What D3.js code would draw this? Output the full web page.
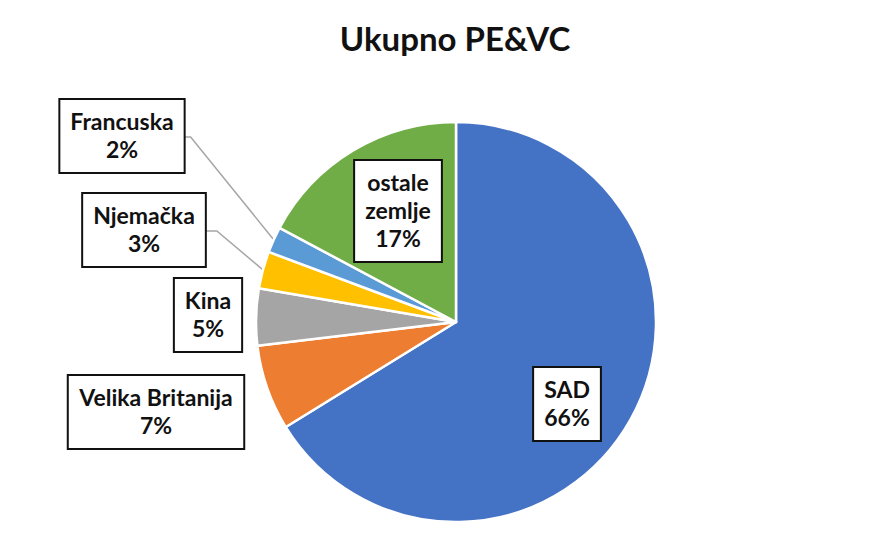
<!DOCTYPE html>
<html>
<head>
<meta charset="utf-8">
<script src="https://cdn.jsdelivr.net/npm/d3@7"></script>
<style>
  body { margin: 0; background: #fff; }
  svg { display: block; }
  text { font-family: Lato, "Noto Sans", sans-serif; font-weight: 700; fill: #111; }
</style>
</head>
<body>
<svg width="890" height="552"></svg>
<script>
// podaci
const categories = ["SAD", "Velika Britanija", "Kina", "Njemačka", "Francuska", "ostale zemlje"];
const values = [66.2, 6.9, 4.6, 3.0, 2.1, 17.2];
const labels = ["66%", "7%", "5%", "3%", "2%", "17%"];
const colors = ["#4472C4", "#ED7D31", "#A5A5A5", "#FFC000", "#5B9BD5", "#70AD47"];

// pomak središta okvira oznake od središta pite
const labelOffset = [[111, 82], [-300, 90], [-248, -7], [-312, -92], [-334, -186], [-58, -111]];
const hasLeader = [false, false, false, true, true, false];

const svg = d3.select("svg");
const cx = 456, cy = 322, r = 200;

svg.append("text")
   .attr("x", 455).attr("y", 51)
   .attr("text-anchor", "middle")
   .style("font-size", "33px")
   .text("Ukupno PE&VC");

const data = categories.map((c, i) => ({name: c, value: values[i], label: labels[i], color: colors[i], i: i}));

const pie = d3.pie().sort(null).value(d => d.value);
const arc = d3.arc().innerRadius(0).outerRadius(r);
const arcs = pie(data);

const g = svg.append("g").attr("transform", `translate(${cx}, ${cy})`);

g.selectAll("path")
   .data(arcs)
   .enter()
   .append("path")
   .attr("d", arc)
   .attr("fill", d => d.data.color)
   .attr("stroke", "#fff")
   .attr("stroke-width", 2.5)
   .attr("stroke-linejoin", "round");

// linije do oznaka
arcs.forEach(a => {
   if (!hasLeader[a.data.i]) return;
   const mid = (a.startAngle + a.endAngle) / 2;
   a.leader = {px: Math.sin(mid) * r, py: -Math.cos(mid) * r};
});

const labelG = svg.append("g");
arcs.forEach(a => {
   const [ox, oy] = labelOffset[a.data.i];
   const lx = cx + ox, ly = cy + oy;
   const lg = labelG.append("g");
   const rect = lg.append("rect");
   const lines = a.data.name == "ostale zemlje" ? ["ostale", "zemlje", a.data.label] : [a.data.name, a.data.label];
   const lh = 28;
   const t = lg.append("text")
      .attr("text-anchor", "middle")
      .style("font-size", "23px");
   lines.forEach((s, k) => {
      t.append("tspan")
         .attr("x", lx)
         .attr("y", ly + (k - (lines.length - 1) / 2) * lh + 8)
         .text(s);
   });
   const bb = t.node().getBBox();
   const w = bb.width + 22, h = lines.length * lh + 18;
   rect.attr("x", lx - w / 2).attr("y", ly - h / 2)
      .attr("width", w).attr("height", h)
      .attr("fill", "#fff")
      .attr("stroke", "#111")
      .attr("stroke-width", 2);

   if (a.leader) {
      const x0 = lx + w / 2, y0 = ly + 1;
      const x1 = x0 + (a.data.i == 4 ? 6 : 11);
      svg.insert("path", "g")
         .attr("d", `M${x0},${y0}L${x1},${y0}L${cx + a.leader.px},${cy + a.leader.py}`)
         .attr("fill", "none")
         .attr("stroke", "#A6A6A6")
         .attr("stroke-width", 1.5);
   }
});
</script>
</body>
</html>
